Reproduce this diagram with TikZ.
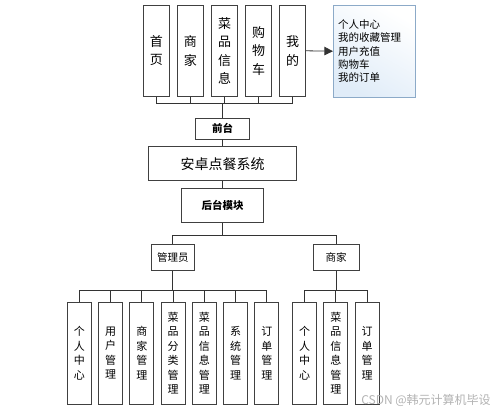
\documentclass[tikz,border=0pt]{standalone}
\usepackage{fontspec}
\newfontfamily\cjk{Noto Sans CJK SC}
\usetikzlibrary{positioning,arrows.meta}
\definecolor{edgeblue}{RGB}{140,170,200}
\definecolor{fillblue}{RGB}{224,236,248}
\tikzset{
  menubox/.style={draw=black!75, line width=0.9pt, minimum width=26pt, minimum height=91.5pt, inner sep=0pt, align=center, font=\cjk\fontsize{13}{18.5}\selectfont},
  funcbox/.style={draw=black!75, line width=0.9pt, minimum width=24pt, minimum height=102pt, inner sep=0pt, align=center, font=\cjk\fontsize{11}{14.5}\selectfont},
  midbox/.style={draw=black!75, line width=0.9pt, inner sep=0pt, font=\cjk\fontsize{10.5}{12}\selectfont},
  link/.style={draw=black!80, line width=0.8pt},
}
\begin{document}
\begin{tikzpicture}[x=1pt,y=-1pt]
\useasboundingbox (0,0) rectangle (499,412);
% front-end menu
\node (shouye) [menubox] at (156.3,50.8) {首\\页};
\node (shangjia) [menubox, node distance=34.1pt, right of=shouye] {商\\家};
\node (caipin) [menubox, node distance=34.1pt, right of=shangjia] {菜\\品\\信\\息};
\node (gouwu) [menubox, node distance=34.1pt, right of=caipin] {购\\物\\车};
\node (wode) [menubox, node distance=34.1pt, right of=gouwu] {我\\的};
\node (wodelist) [draw=edgeblue, line width=0.9pt, top color=white, bottom color=fillblue, shading angle=-30,
  minimum width=81.7pt, minimum height=92.3pt, text width=72pt, inner xsep=4.8pt, align=left,
  font=\cjk\fontsize{10.5}{13.2}\selectfont] at (374.2,51.2)
  {个人中心\\我的收藏管理\\用户充值\\购物车\\我的订单};
\draw [link, -{Triangle[length=8.5pt,width=8.5pt]}] (wode.east) -- (wodelist.west);
% middle
\coordinate (topbus) at (222.5,103.3);
\node (qiantai) [midbox, minimum width=53.3pt, minimum height=20.7pt, font=\cjk\bfseries\fontsize{10.5}{12}\selectfont] at (222.5,128.7) {前台};
\node (xitong) [midbox, minimum width=147.4pt, minimum height=34.3pt, font=\cjk\fontsize{14}{16}\selectfont] at (222.5,163.8) {安卓点餐系统};
\node (houtai) [midbox, minimum width=81.7pt, minimum height=33.7pt, font=\cjk\bfseries\fontsize{10.5}{12}\selectfont] at (222.5,205.8) {后台模块};
\node (guanli) [midbox, minimum width=43.7pt, minimum height=26.3pt] at (172.8,257.2) {管理员};
\node (shangjiab) [midbox, minimum width=46.3pt, minimum height=26.3pt] at (336.2,257.2) {商家};
\foreach \n in {shouye,shangjia,caipin,gouwu,wode}
  \draw [link] (\n.south) |- (topbus);
\draw [link] (topbus) -- (qiantai.north);
\draw [link] (qiantai.south) -- (xitong.north);
\draw [link] (xitong.south) -- (houtai.north);
\coordinate (midbus) at (222.5,235.7);
\draw [link] (houtai.south) -- (midbus);
\draw [link] (guanli.north) |- (midbus);
\draw [link] (shangjiab.north) |- (midbus);
% admin functions
\node (a1) [funcbox] at (79.3,353.2) {个\\人\\中\\心};
\node (a2) [funcbox, node distance=31.25pt, right of=a1] {用\\户\\管\\理};
\node (a3) [funcbox, node distance=31.25pt, right of=a2] {商\\家\\管\\理};
\node (a4) [funcbox, node distance=31.25pt, right of=a3] {菜\\品\\分\\类\\管\\理};
\node (a5) [funcbox, node distance=31.25pt, right of=a4] {菜\\品\\信\\息\\管\\理};
\node (a6) [funcbox, node distance=31.25pt, right of=a5] {系\\统\\管\\理};
\node (a7) [funcbox, node distance=31.25pt, right of=a6] {订\\单\\管\\理};
\coordinate (adminbus) at (172.8,290);
\draw [link] (guanli.south) -- (adminbus);
\foreach \n in {a1,a2,a3,a4,a5,a6,a7}
  \draw [link] (\n.north) |- (adminbus);
% merchant functions
\node (m1) [funcbox] at (304.5,353.2) {个\\人\\中\\心};
\node (m2) [funcbox, node distance=31.35pt, right of=m1] {菜\\品\\信\\息\\管\\理};
\node (m3) [funcbox, node distance=31.35pt, right of=m2] {订\\单\\管\\理};
\coordinate (merbus) at (336.2,290);
\draw [link] (shangjiab.south) -- (merbus);
\foreach \n in {m1,m2,m3}
  \draw [link] (\n.north) |- (merbus);
% watermark
\node (mark) [text=black!30, font=\cjk\fontsize{12}{14}\selectfont, inner sep=0pt] at (426,400) {CSDN @韩元计算机毕设};
\end{tikzpicture}
\end{document}
